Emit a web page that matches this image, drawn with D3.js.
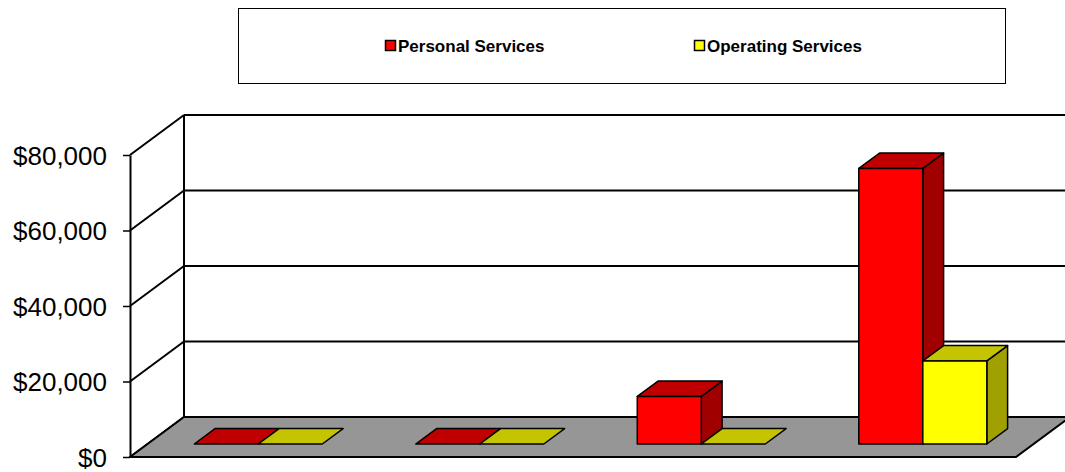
<!DOCTYPE html>
<html><head><meta charset="utf-8">
<script src="https://cdn.jsdelivr.net/npm/d3@7"></script>
<style>html,body{margin:0;padding:0;background:#fff;overflow:hidden}svg{display:block}</style>
</head><body>
<script>
const categories = ["Category 1", "Category 2", "Category 3", "Category 4"];
const seriesNames = ["Personal Services", "Operating Services"];
const personalServices = [0, 0, 12600, 73000];
const operatingServices = [0, 0, 0, 22000];
const yTicks = [0, 20000, 40000, 60000, 80000];

const W = 1065, H = 472;
const DX = 54, DY = 40;          // wall depth projection
const Z0 = 0.325, Z1 = 0.71;     // bar depth span
const colors = {
  "Personal Services": {front: "#FF0000", top: "#C00000", side: "#A00000"},
  "Operating Services": {front: "#FFFF00", top: "#C4C400", side: "#A0A000"}
};
const valuesBySeries = {"Personal Services": personalServices, "Operating Services": operatingServices};

const svg = d3.select("body").append("svg").attr("width", W).attr("height", H);

const y = d3.scaleLinear().domain([0, 80000]).range([457, 155]);
const x = d3.scaleBand().domain(categories).range([130, 1016]).paddingInner(0.422).paddingOuter(0.211);
const xs = d3.scaleBand().domain(seriesNames).range([0, x.bandwidth()]);

const P = (px, py, z) => [px + z * DX, py - z * DY];

// Legend
const lg = svg.append("g");
lg.append("rect").attr("x", 238.5).attr("y", 8.5).attr("width", 767).attr("height", 75)
  .attr("fill", "#fff").attr("stroke", "#000").attr("stroke-width", 1);
const legendX = [385, 694];
seriesNames.forEach((s, i) => {
  lg.append("rect").attr("x", legendX[i] + 0.5).attr("y", 40.5).attr("width", 10).attr("height", 10)
    .attr("fill", colors[s].front).attr("stroke", "#000").attr("stroke-width", 1.5);
  lg.append("text").attr("x", legendX[i] + 13).attr("y", 51.5)
    .attr("font-family", "Liberation Sans, Arial, sans-serif").attr("font-weight", "bold")
    .attr("font-size", 17).attr("fill", "#000").text(s);
});

// Back wall gridlines and side wall
const grid = svg.append("g").attr("stroke", "#000").attr("stroke-width", 2).attr("fill", "none");
yTicks.forEach(t => {
  const a = P(130, y(t), 0), b = P(130, y(t), 1), c = P(1016, y(t), 1);
  grid.append("line").attr("x1", a[0]).attr("y1", a[1]).attr("x2", b[0]).attr("y2", b[1]);
  grid.append("line").attr("x1", b[0]).attr("y1", b[1]).attr("x2", c[0] + 20).attr("y2", c[1]);
});
const bt = P(130, y(80000), 1), bb = P(130, y(0), 1);
grid.append("line").attr("x1", bt[0]).attr("y1", bt[1]).attr("x2", bb[0]).attr("y2", bb[1]);

// Floor
const floorPts = [P(130, y(0), 0), P(130, y(0), 1), P(1016, y(0), 1), P(1016, y(0), 0)];
svg.append("polygon").attr("points", floorPts.map(p => p.join(",")).join(" "))
  .attr("fill", "#969696").attr("stroke", "#000").attr("stroke-width", 2).attr("stroke-linejoin", "miter");

// Y axis
const axis = svg.append("g").attr("transform", "translate(130,0)")
  .call(d3.axisLeft(y).tickValues(yTicks).tickSize(7).tickSizeOuter(0).tickPadding(16)
    .tickFormat(d => "$" + d3.format(",")(d)));
axis.select(".domain").attr("stroke", "#000").attr("stroke-width", 2);
axis.selectAll(".tick line").attr("stroke", "#000").attr("stroke-width", 1.5);
axis.selectAll(".tick text").attr("font-family", "Liberation Sans, Arial, sans-serif")
  .attr("font-size", 26).attr("dy", "0.35em").attr("fill", "#000");

// Bars
const bars = svg.append("g").attr("stroke", "#000").attr("stroke-width", 1.5).attr("stroke-linejoin", "round");
const poly = (pts, fill) => bars.append("polygon").attr("points", pts.map(p => p.join(",")).join(" ")).attr("fill", fill);
categories.forEach((cat, i) => {
  seriesNames.forEach(s => {
    const v = valuesBySeries[s][i];
    const x0 = x(cat) + xs(s), x1 = x0 + xs.bandwidth();
    const yb = y(0), yt = y(v);
    const c = colors[s];
    if (v > 0) {
      poly([P(x1, yb, Z0), P(x1, yb, Z1), P(x1, yt, Z1), P(x1, yt, Z0)], c.side);
      poly([P(x0, yt, Z0), P(x0, yt, Z1), P(x1, yt, Z1), P(x1, yt, Z0)], c.top);
      poly([P(x0, yb, Z0), P(x1, yb, Z0), P(x1, yt, Z0), P(x0, yt, Z0)], c.front);
    } else {
      poly([P(x0, yt, Z0), P(x0, yt, Z1), P(x1, yt, Z1), P(x1, yt, Z0)], c.top);
    }
  });
});
</script>
</body></html>
